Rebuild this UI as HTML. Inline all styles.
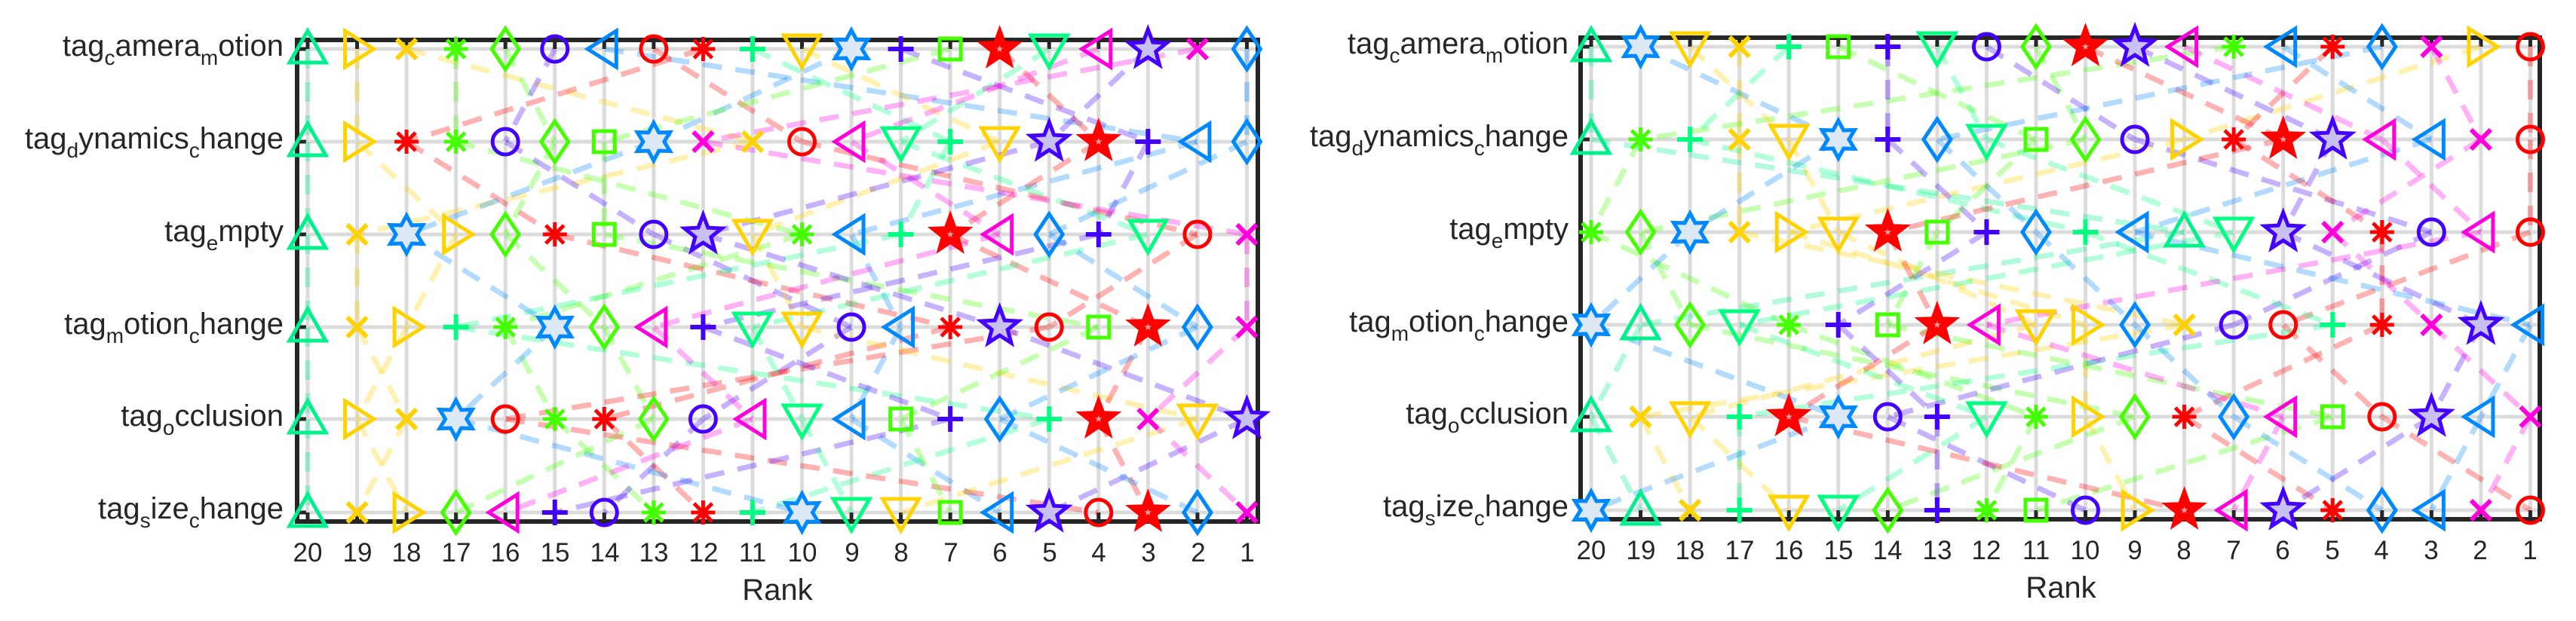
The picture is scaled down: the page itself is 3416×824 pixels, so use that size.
<!DOCTYPE html>
<html><head><meta charset="utf-8"><style>html,body{margin:0;padding:0;background:#fff;}svg{display:block}</style></head>
<body>
<svg id="s" width="3416" height="824" viewBox="0 0 3416 824" xmlns="http://www.w3.org/2000/svg" font-family="Liberation Sans, Arial, sans-serif" fill="#262626">
<g id="g"></g>
<g font-size="40" text-anchor="end" fill="#262626">
<text x="376" y="74">tag<tspan font-size="28" dy="12">c</tspan><tspan dy="-12">amera</tspan><tspan font-size="28" dy="12">m</tspan><tspan dy="-12">otion</tspan></text>
<text x="376" y="197">tag<tspan font-size="28" dy="12">d</tspan><tspan dy="-12">ynamics</tspan><tspan font-size="28" dy="12">c</tspan><tspan dy="-12">hange</tspan></text>
<text x="376" y="320">tag<tspan font-size="28" dy="12">e</tspan><tspan dy="-12">mpty</tspan></text>
<text x="376" y="443">tag<tspan font-size="28" dy="12">m</tspan><tspan dy="-12">otion</tspan><tspan font-size="28" dy="12">c</tspan><tspan dy="-12">hange</tspan></text>
<text x="376" y="565">tag<tspan font-size="28" dy="12">o</tspan><tspan dy="-12">cclusion</tspan></text>
<text x="376" y="688">tag<tspan font-size="28" dy="12">s</tspan><tspan dy="-12">ize</tspan><tspan font-size="28" dy="12">c</tspan><tspan dy="-12">hange</tspan></text>
<text x="2080" y="71">tag<tspan font-size="28" dy="12">c</tspan><tspan dy="-12">amera</tspan><tspan font-size="28" dy="12">m</tspan><tspan dy="-12">otion</tspan></text>
<text x="2080" y="194">tag<tspan font-size="28" dy="12">d</tspan><tspan dy="-12">ynamics</tspan><tspan font-size="28" dy="12">c</tspan><tspan dy="-12">hange</tspan></text>
<text x="2080" y="317">tag<tspan font-size="28" dy="12">e</tspan><tspan dy="-12">mpty</tspan></text>
<text x="2080" y="440">tag<tspan font-size="28" dy="12">m</tspan><tspan dy="-12">otion</tspan><tspan font-size="28" dy="12">c</tspan><tspan dy="-12">hange</tspan></text>
<text x="2080" y="562">tag<tspan font-size="28" dy="12">o</tspan><tspan dy="-12">cclusion</tspan></text>
<text x="2080" y="685">tag<tspan font-size="28" dy="12">s</tspan><tspan dy="-12">ize</tspan><tspan font-size="28" dy="12">c</tspan><tspan dy="-12">hange</tspan></text>
</g>
<g font-size="35" text-anchor="middle" fill="#262626">
<text x="408" y="745">20</text><text x="474" y="745">19</text><text x="539" y="745">18</text><text x="605" y="745">17</text><text x="670" y="745">16</text><text x="736" y="745">15</text><text x="802" y="745">14</text><text x="867" y="745">13</text><text x="933" y="745">12</text><text x="998" y="745">11</text><text x="1064" y="745">10</text><text x="1130" y="745">9</text><text x="1195" y="745">8</text><text x="1261" y="745">7</text><text x="1326" y="745">6</text><text x="1392" y="745">5</text><text x="1457" y="745">4</text><text x="1523" y="745">3</text><text x="1589" y="745">2</text><text x="1654" y="745">1</text>
<text x="2110" y="742">20</text><text x="2176" y="742">19</text><text x="2241" y="742">18</text><text x="2307" y="742">17</text><text x="2372" y="742">16</text><text x="2438" y="742">15</text><text x="2503" y="742">14</text><text x="2569" y="742">13</text><text x="2634" y="742">12</text><text x="2700" y="742">11</text><text x="2765" y="742">10</text><text x="2831" y="742">9</text><text x="2896" y="742">8</text><text x="2962" y="742">7</text><text x="3027" y="742">6</text><text x="3093" y="742">5</text><text x="3158" y="742">4</text><text x="3224" y="742">3</text><text x="3289" y="742">2</text><text x="3355" y="742">1</text>
</g>
<g font-size="40" text-anchor="middle" fill="#262626">
<text x="1031" y="796">Rank</text>
<text x="2733" y="793">Rank</text>
</g>
</svg>
<script>
var C={ag:'#00F08C',y:'#FFD200',g:'#44FF00',p:'#4400FF',b:'#0088FF',r:'#FF0000',sg:'#00FF80',m:'#FF00DD'};
var S={A:['tu',C.ag],B:['tr',C.y],C:['x',C.y],D:['ast',C.g],E:['dia',C.g],F:['o',C.p],G:['tl',C.b],H:['o',C.r],I:['ast',C.r],J:['plus',C.sg],K:['td',C.y],L:['hex',C.b],M:['plus',C.p],N:['sq',C.g],O:['pentf',C.r],P:['td',C.sg],Q:['tl',C.m],R:['pent',C.p],S:['x',C.m],T:['dia',C.b]};
var P1=['ABCDEFGHIJKLMNOPQRST','ABIDFENLSCHQPJKROMGT','ACLBEINFRKDGJOQTMPHS','ACBJDLEQMPKFGIRHNOTS','ABCLHDIEFQPGNMTJOSKR','ACBEQMFDIJLPKNGRHOTS'];
var P2=['ALKCJNMPFEORQDGITSBH','ADJCKLMTPNEFBIORQGSH','DELCBKONMTJGAPRSIFQH','LAEPDMNOQKBTCFHJISRG','ACKJOLFMPDBEITQNHRGS','LACJKPEMDNFBOQRITGSH'];
var ns='http://www.w3.org/2000/svg',G=document.getElementById('g');
function el(t,a){var e=document.createElementNS(ns,t);for(var k in a)e.setAttribute(k,a[k]);G.appendChild(e);return e;}
function star(n,R,r,x,y){var p=[];for(var i=0;i<2*n;i++){var a=-Math.PI/2+i*Math.PI/n,rr=i%2?r:R;p.push((x+rr*Math.cos(a)).toFixed(1)+','+(y+rr*Math.sin(a)).toFixed(1));}return p.join(' ');}
function mk(t,c,x,y){var sw=5,o={fill:'none',stroke:c,'stroke-width':sw,'stroke-linejoin':'miter'};
function pl(pts){o.points=pts;el('polygon',o);}
if(t=='tu')pl([x,y-24,x-24,y+18,x+24,y+18].join(' '));
else if(t=='td')pl([x,y+24,x-24,y-18,x+24,y-18].join(' '));
else if(t=='tr')pl([x+22,y,x-16,y-24,x-16,y+24].join(' '));
else if(t=='tl')pl([x-22,y,x+16,y-24,x+16,y+24].join(' '));
else if(t=='dia')pl([x,y-27,x+18,y,x,y+27,x-18,y].join(' '));
else if(t=='sq'){el('rect',{x:x-14,y:y-14,width:28,height:28,fill:'none',stroke:c,'stroke-width':sw});}
else if(t=='o'){el('circle',{cx:x,cy:y,r:17,fill:'none',stroke:c,'stroke-width':sw});}
else if(t=='plus'){el('path',{d:'M'+(x-17)+' '+y+'H'+(x+17)+'M'+x+' '+(y-17)+'V'+(y+17),stroke:c,'stroke-width':6});}
else if(t=='x'){el('path',{d:'M'+(x-13)+' '+(y-13)+'L'+(x+13)+' '+(y+13)+'M'+(x+13)+' '+(y-13)+'L'+(x-13)+' '+(y+13),stroke:c,'stroke-width':6});}
else if(t=='ast'){el('path',{d:'M'+(x-16)+' '+y+'H'+(x+16)+'M'+x+' '+(y-16)+'V'+(y+16)+'M'+(x-12)+' '+(y-12)+'L'+(x+12)+' '+(y+12)+'M'+(x+12)+' '+(y-12)+'L'+(x-12)+' '+(y+12),stroke:c,'stroke-width':5});}
else if(t=='hex'){el('polygon',{points:star(6,25,14,x,y),fill:'#dde8f5',stroke:c,'stroke-width':5});}
else if(t=='pent'){el('polygon',{points:star(5,26,11,x,y),fill:'#c8c0f0',stroke:c,'stroke-width':5});}
else if(t=='pentf'){el('polygon',{points:star(5,29,12,x,y),fill:c,stroke:c,'stroke-width':2});el('polygon',{points:star(5,5,2,x,y),fill:'#f4a0a0'});}
}
function panel(x0,bx0,bx1,by0,by1,rows,P){
 var xs=[];for(var i=0;i<20;i++)xs.push(x0+i*65.55);
 for(var i=0;i<20;i++)el('line',{x1:xs[i],y1:by0,x2:xs[i],y2:by1,stroke:'#dcdcdc','stroke-width':5});
 for(var j=0;j<6;j++)el('line',{x1:bx0,y1:rows[j],x2:bx1,y2:rows[j],stroke:'#dcdcdc','stroke-width':5});
 for(var i=0;i<20;i++){el('line',{x1:xs[i],y1:by1,x2:xs[i],y2:by1-12,stroke:'#262626','stroke-width':5});el('line',{x1:xs[i],y1:by0,x2:xs[i],y2:by0+12,stroke:'#262626','stroke-width':5});}
 for(var j=0;j<6;j++)el('line',{x1:bx0,y1:rows[j],x2:bx0+12,y2:rows[j],stroke:'#262626','stroke-width':5});
 el('rect',{x:bx0,y:by0,width:bx1-bx0,height:by1-by0,fill:'none',stroke:'#262626','stroke-width':6});
 for(var k in S){for(var j=0;j<5;j++){var a=P[j].indexOf(k),b=P[j+1].indexOf(k);
  el('line',{x1:xs[a],y1:rows[j],x2:xs[b],y2:rows[j+1],stroke:S[k][1],'stroke-opacity':0.3,'stroke-width':7,'stroke-dasharray':'26 18'});}}
 for(var j=0;j<6;j++)for(var i=0;i<20;i++){var k=P[j][i];mk(S[k][0],S[k][1],xs[i],rows[j]);}
}
panel(408,394,1668,53,692,[65,188,311,434,556,680],P1);
panel(2110,2096,3368,50,689,[62,185,308,431,553,677],P2);
</script>
</body></html>
